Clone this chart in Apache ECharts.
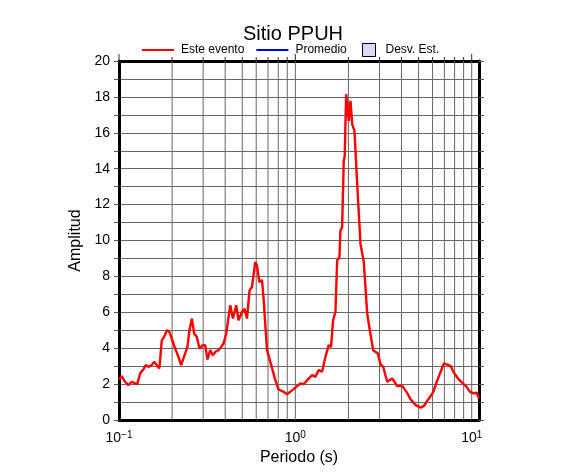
<!DOCTYPE html>
<html>
<head>
<meta charset="utf-8">
<script src="https://cdn.jsdelivr.net/npm/echarts@6/dist/echarts.min.js"></script>
<style>html,body{margin:0;padding:0;background:#fff}#c{width:586px;height:475px}</style>
</head>
<body>
<div id="c"></div>
<script>
var titleText = 'Sitio PPUH';
var xName = 'Periodo (s)';
var yName = 'Amplitud';
var seriesNames = ['Este evento', 'Promedio', 'Desv. Est.'];
var xMin = 0.1, xMax = 11;
var yMin = 0, yMax = 20, yInterval = 2;
var xGridValues = [0.1,0.2,0.3,0.4,0.5,0.6,0.7,0.8,0.9,1,2,3,4,5,6,7,8,9,10];

var periods = [
 0.100,0.1036,0.1082,0.1129,0.1181,0.1233,0.1270,0.1316,0.1374,0.1418,
 0.1467,0.1534,0.1580,0.1637,0.1694,0.1748,0.1802,0.1866,0.1931,0.1993,
 0.2081,0.2173,0.2251,0.2320,0.2444,0.2508,0.2589,0.2668,0.2764,0.2859,
 0.2989,0.3080,0.3175,0.3289,0.3407,0.3525,0.3666,0.3797,0.3914,0.4055,
 0.4272,0.4426,0.4621,0.4762,0.4980,0.5152,0.5317,0.5500,0.5675,0.5925,
 0.6060,0.6245,0.6469,0.6605,0.6905,0.7211,0.7699,0.8038,0.8582,0.8970,
 0.9367,1.000,1.0676,1.1146,1.190,1.244,1.299,1.356,1.418,1.481,
 1.546,1.595,1.637,1.688,1.726,1.778,1.802,1.842,1.881,1.906,
 1.941,1.967,2.008,2.054,2.081,2.100,2.164,2.242,2.341,2.444,
 2.555,2.644,2.764,2.935,3.041,3.150,3.319,3.389,3.543,3.783,
 4.039,4.124,4.312,4.502,4.806,5.132,5.358,5.720,6.060,6.385,
 6.667,6.961,7.277,7.598,7.933,8.360,8.855,9.367,9.779,10.30,
 10.68,11.0
];
var amplitudes = [
 2.25,2.44,2.13,1.94,2.13,2.04,2.00,2.59,2.81,3.06,
 2.96,3.06,3.24,3.06,2.87,4.44,4.63,5.00,4.91,4.54,
 3.98,3.52,3.06,3.43,4.07,5.00,5.65,4.81,4.63,3.98,
 4.17,4.17,3.37,3.89,3.61,3.80,3.89,4.07,4.26,4.81,
 6.39,5.65,6.39,5.56,6.02,6.20,5.65,7.22,7.41,8.80,
 8.60,7.69,7.80,6.76,3.89,3.24,2.22,1.70,1.57,1.44,
 1.57,1.80,2.04,2.00,2.31,2.50,2.40,2.78,2.69,3.52,
 4.17,4.07,5.56,6.02,8.89,9.07,10.56,10.74,14.44,14.72,
 18.15,18.06,16.67,17.78,17.04,16.48,16.11,13.15,9.81,8.80,
 5.93,5.00,3.89,3.70,3.10,2.96,2.13,2.07,2.31,1.89,
 1.90,1.81,1.50,1.15,0.83,0.69,0.78,1.20,1.57,2.22,
 2.69,3.15,3.09,3.00,2.63,2.31,2.07,1.85,1.57,1.48,
 1.52,1.20
];

var lineData = periods.map(function (p, i) { return [p, amplitudes[i]]; });

function isPow10(v) {
  var l = Math.log(v) / Math.LN10;
  return Math.abs(l - Math.round(l)) < 1e-6;
}

var chart = echarts.init(document.getElementById('c'), null, {renderer: 'canvas'});
var FONT = 'Liberation Sans, Arial, Helvetica, sans-serif';
var frame = {show: true, onZero: false, lineStyle: {color: '#000', width: 3}};

chart.setOption({
  animation: false,
  backgroundColor: '#fff',
  textStyle: {fontFamily: FONT},
  title: {
    text: titleText, left: 'center', top: 24, padding: [0, 0, 0, 22],
    textStyle: {fontSize: 20, fontWeight: 'normal', color: '#000', fontFamily: FONT}
  },
  legend: [{
    data: [
      {name: seriesNames[0], icon: 'rect', itemStyle: {color: '#ff0000'}},
      {name: seriesNames[1], icon: 'rect', itemStyle: {color: '#0000ff'}}
    ],
    left: 142, top: 44, padding: 0, itemWidth: 32, itemHeight: 2, itemGap: 12,
    textStyle: {fontSize: 12, color: '#000', fontFamily: FONT, padding: [0, 0, 0, 2]}
  }, {
    data: [{name: seriesNames[2], icon: 'rect', itemStyle: {color: '#d8d8f8', borderColor: '#000', borderWidth: 1}}],
    left: 362, top: 43, padding: 0, itemWidth: 13, itemHeight: 13,
    textStyle: {fontSize: 12, color: '#000', fontFamily: FONT, padding: [0, 0, 0, 5]}
  }],
  grid: {left: 119, right: 107, top: 61, bottom: 55, containLabel: false},
  xAxis: [{
    type: 'log', logBase: 10, min: xMin, max: xMax, position: 'bottom',
    axisLine: frame, axisTick: {show: false}, splitLine: {show: false},
    name: xName, nameLocation: 'middle', nameGap: 27,
    nameTextStyle: {fontSize: 16, color: '#000', fontFamily: FONT},
    axisLabel: {
      margin: 10, color: '#000', showMaxLabel: false,
      formatter: function (v) {
        if (!isPow10(v)) return '';
        var e = Math.round(Math.log(v) / Math.LN10);
        return '{b|10}{s|' + (e < 0 ? '\u2212' : '') + Math.abs(e) + '}';
      },
      rich: {
        b: {fontSize: 14, lineHeight: 16, color: '#000', fontFamily: FONT},
        s: {fontSize: 10, lineHeight: 10, verticalAlign: 'top', color: '#000', fontFamily: FONT}
      }
    }
  }, {
    type: 'log', logBase: 10, min: xMin, max: xMax, position: 'top',
    axisLine: frame, axisTick: {show: false}, axisLabel: {show: false}, splitLine: {show: false}
  }],
  yAxis: [{
    type: 'value', min: yMin, max: yMax, interval: yInterval, position: 'left',
    axisLine: frame,
    axisTick: {show: true, inside: false, length: 5, lineStyle: {color: '#555'}},
    minorTick: {show: true, splitNumber: 2, length: 5, lineStyle: {color: '#555'}},
    splitLine: {show: true, lineStyle: {color: '#666', width: 1}},
    minorSplitLine: {show: true, lineStyle: {color: '#666', width: 1}},
    axisLabel: {fontSize: 14, color: '#000', margin: 9, fontFamily: FONT},
    name: yName, nameLocation: 'middle', nameGap: 25, nameRotate: 90,
    nameTextStyle: {fontSize: 16, color: '#000', fontFamily: FONT}
  }, {
    type: 'value', min: yMin, max: yMax, interval: yInterval, position: 'right',
    axisLine: frame,
    axisTick: {show: true, inside: false, length: 5, lineStyle: {color: '#555'}},
    minorTick: {show: true, splitNumber: 2, length: 5, lineStyle: {color: '#555'}},
    splitLine: {show: false}, axisLabel: {show: false}
  }],
  series: [{
    name: 'grid', type: 'custom', xAxisIndex: 0, yAxisIndex: 0, z: 1, silent: true,
    clip: false,
    data: xGridValues.map(function (v) { return [v, yMin]; }),
    renderItem: function (params, api) {
      var v = api.value(0);
      var b = api.coord([v, yMin]);
      var t = api.coord([v, yMax]);
      var major = isPow10(v);
      var children = [];
      if (Math.abs(v - xMin) > 1e-9) {
        children.push({type: 'line', shape: {x1: b[0], y1: b[1], x2: t[0], y2: t[1]},
          style: {stroke: '#666', lineWidth: 1}});
      }
      children.push({type: 'line', shape: {x1: t[0], y1: t[1] - 1, x2: t[0], y2: t[1] - (major ? 7 : 4)},
        style: {stroke: '#333', lineWidth: 1}});
      return {type: 'group', children: children};
    }
  }, {
    name: seriesNames[0], type: 'line', data: lineData, symbol: 'none', z: 3,
    lineStyle: {color: '#ff0000', width: 2.4}, itemStyle: {color: '#ff0000'}
  }, {
    name: seriesNames[1], type: 'line', data: [], symbol: 'none',
    lineStyle: {color: '#0000ff', width: 2}, itemStyle: {color: '#0000ff'}
  }, {
    name: seriesNames[2], type: 'line', data: [], symbol: 'none',
    lineStyle: {width: 0}, areaStyle: {color: '#d8d8f8'}, itemStyle: {color: '#d8d8f8'}
  }]
});
</script>
</body>
</html>
